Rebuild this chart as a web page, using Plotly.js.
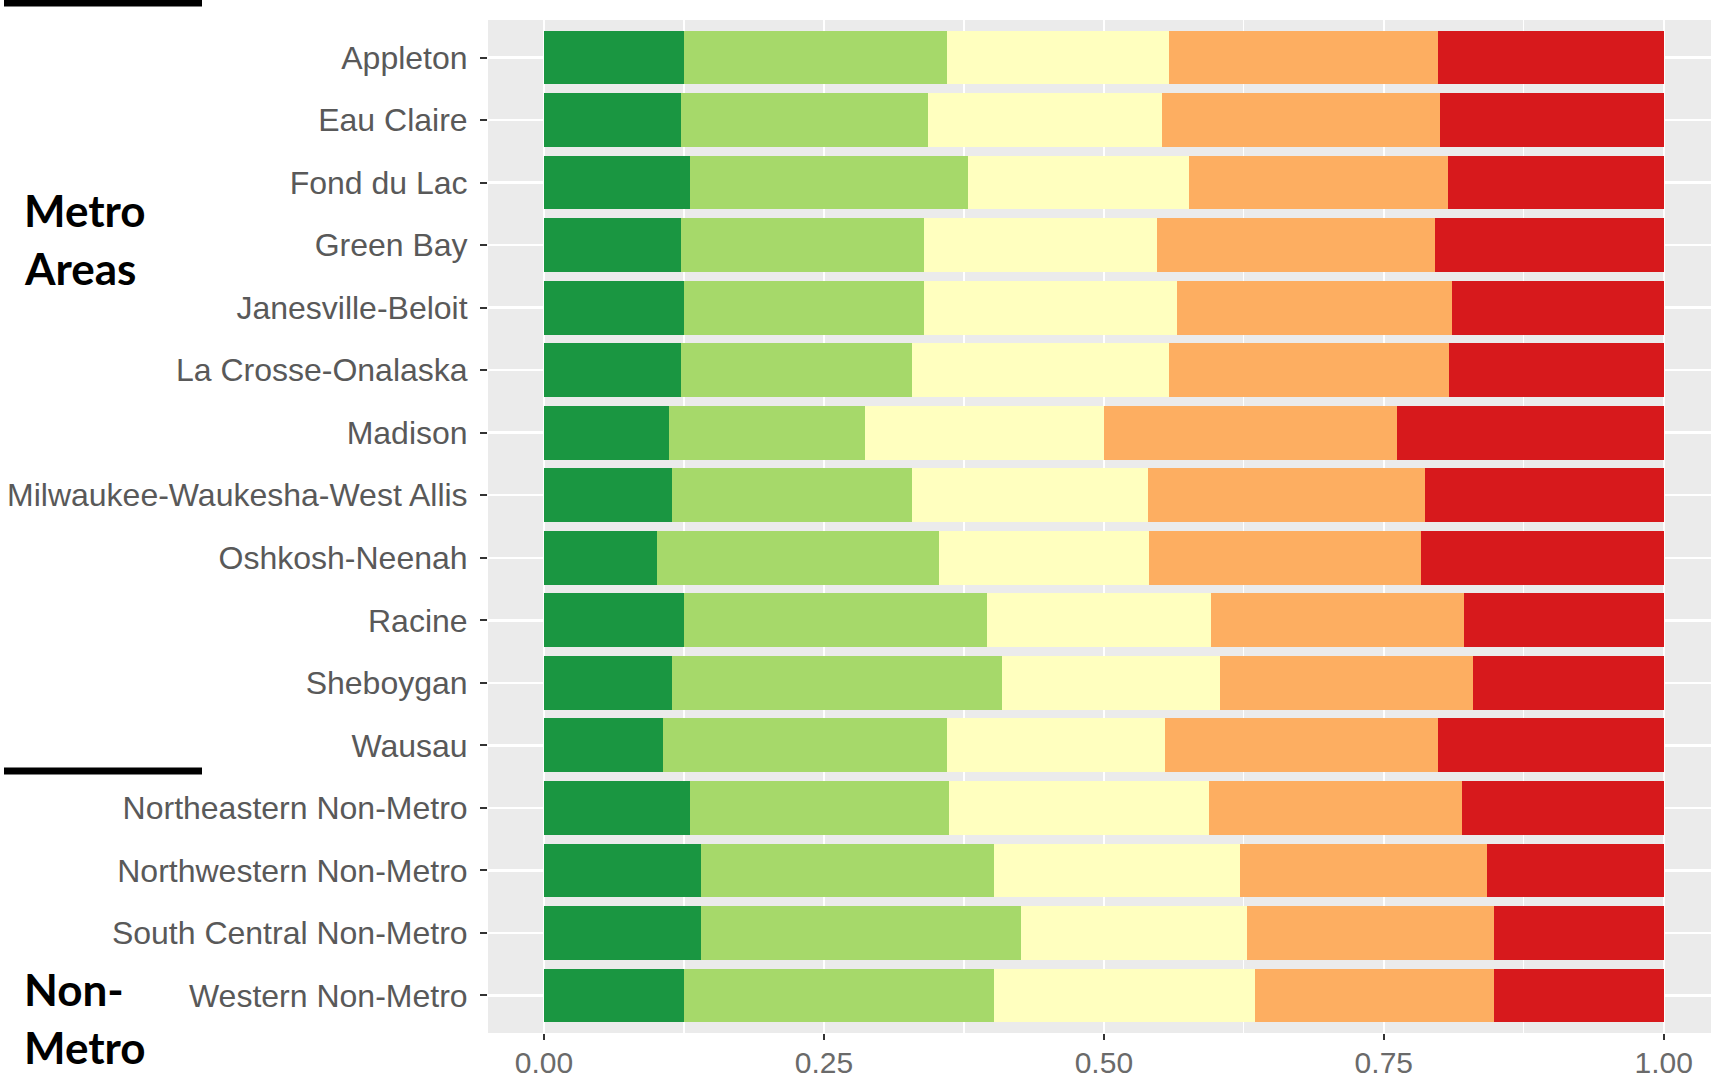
<!DOCTYPE html>
<html>
<head>
<meta charset="utf-8">
<script src="https://cdn.plot.ly/plotly-3.0.1.min.js"></script>
<style>html,body{margin:0;padding:0;background:#fff;}#chart{width:1711px;height:1081px;}</style>
</head>
<body>
<div id="chart"></div>
<script>
// Categories (top to bottom)
const categories = [
  "Appleton", "Eau Claire", "Fond du Lac", "Green Bay", "Janesville-Beloit",
  "La Crosse-Onalaska", "Madison", "Milwaukee-Waukesha-West Allis", "Oshkosh-Neenah",
  "Racine", "Sheboygan", "Wausau", "Northeastern Non-Metro", "Northwestern Non-Metro",
  "South Central Non-Metro", "Western Non-Metro"
];
// Share in each of five groups (green -> red), each row sums to 1
const group1 = [0.125, 0.122, 0.130, 0.122, 0.125, 0.122, 0.112, 0.114, 0.101, 0.125, 0.114, 0.106, 0.130, 0.140, 0.140, 0.125];
const group2 = [0.235, 0.221, 0.249, 0.217, 0.214, 0.207, 0.175, 0.215, 0.252, 0.271, 0.295, 0.254, 0.232, 0.262, 0.286, 0.277];
const group3 = [0.198, 0.209, 0.197, 0.208, 0.226, 0.229, 0.213, 0.210, 0.187, 0.200, 0.195, 0.195, 0.232, 0.220, 0.202, 0.233];
const group4 = [0.240, 0.248, 0.231, 0.249, 0.246, 0.250, 0.262, 0.248, 0.243, 0.226, 0.226, 0.243, 0.226, 0.220, 0.220, 0.213];
const group5 = [0.202, 0.200, 0.193, 0.204, 0.189, 0.192, 0.238, 0.213, 0.217, 0.178, 0.170, 0.202, 0.180, 0.158, 0.152, 0.152];
const groupNames = ["Group 1", "Group 2", "Group 3", "Group 4", "Group 5"];
const tickVals = [0, 0.25, 0.5, 0.75, 1];
const tickLabels = ["0.00", "0.25", "0.50", "0.75", "1.00"];
const sideLabels = [["Metro", "Areas"], ["Non-", "Metro"]];

const colors = ["#1a9641", "#a6d96a", "#ffffbf", "#fdae61", "#d7191c"];
const groups = [group1, group2, group3, group4, group5];

const traces = groups.map((g, i) => ({
  type: "bar",
  orientation: "h",
  name: groupNames[i],
  x: g,
  y: categories,
  marker: { color: colors[i], line: { width: 0 } },
  hoverinfo: "x+y+name"
}));

const W = 1711, H = 1081;
const M = { l: 488, r: 0, t: 20, b: 48 };
const pw = W - M.l - M.r, ph = H - M.t - M.b;
const px2x = px => (px - M.l) / pw;
const px2y = py => (H - M.b - py) / ph;

const labelFont = { family: "Lato, 'Open Sans', sans-serif", size: 44, color: "#000" };
const annotations = [
  { text: "<b>" + sideLabels[0][0] + "</b>", y: px2y(210) },
  { text: "<b>" + sideLabels[0][1] + "</b>", y: px2y(268) },
  { text: "<b>" + sideLabels[1][0] + "</b>", y: px2y(989) },
  { text: "<b>" + sideLabels[1][1] + "</b>", y: px2y(1047) }
].map(a => Object.assign({
  xref: "paper", yref: "paper", x: px2x(22), xanchor: "left", yanchor: "middle",
  showarrow: false, font: labelFont
}, a));

const shapes = [
  { type: "line", xref: "paper", yref: "paper", x0: px2x(4), x1: px2x(202), y0: px2y(3), y1: px2y(3), line: { color: "#000", width: 7 } },
  { type: "line", xref: "paper", yref: "paper", x0: px2x(4), x1: px2x(202), y0: px2y(771), y1: px2y(771), line: { color: "#000", width: 7 } }
];

const yTickFont = { family: "'Liberation Sans', Arial, sans-serif", size: 32, color: "#595959" };
const xTickFont = { family: "'Liberation Sans', Arial, sans-serif", size: 30, color: "#6a6a6a" };

const layout = {
  width: W, height: H,
  margin: M,
  barmode: "stack",
  bargap: 0.14,
  showlegend: false,
  paper_bgcolor: "#ffffff",
  plot_bgcolor: "#ebebeb",
  xaxis: {
    range: [-0.05, 1.0422],
    tickvals: tickVals, ticktext: tickLabels,
    showgrid: true, gridcolor: "#ffffff", gridwidth: 2.5,
    minor: { tickvals: [0.125, 0.375, 0.625, 0.875], showgrid: true, gridcolor: "#ffffff", gridwidth: 1.2, ticks: "" },
    zeroline: false, showline: false,
    ticks: "outside", ticklen: 6, tickwidth: 2, tickcolor: "#333",
    ticklabelstandoff: -3,
    tickfont: xTickFont, automargin: false, fixedrange: true
  },
  yaxis: {
    type: "category",
    categoryorder: "array", categoryarray: categories,
    range: [15.6, -0.6],
    showgrid: true, gridcolor: "#ffffff", gridwidth: 2.5,
    zeroline: false, showline: false,
    ticks: "outside", ticklen: 7, tickwidth: 2, tickcolor: "#333",
    ticklabelstandoff: 6,
    tickfont: yTickFont, automargin: false, fixedrange: true
  },
  annotations: annotations,
  shapes: shapes
};

Plotly.newPlot("chart", traces, layout, { displayModeBar: false, staticPlot: true });
</script>
</body>
</html>
